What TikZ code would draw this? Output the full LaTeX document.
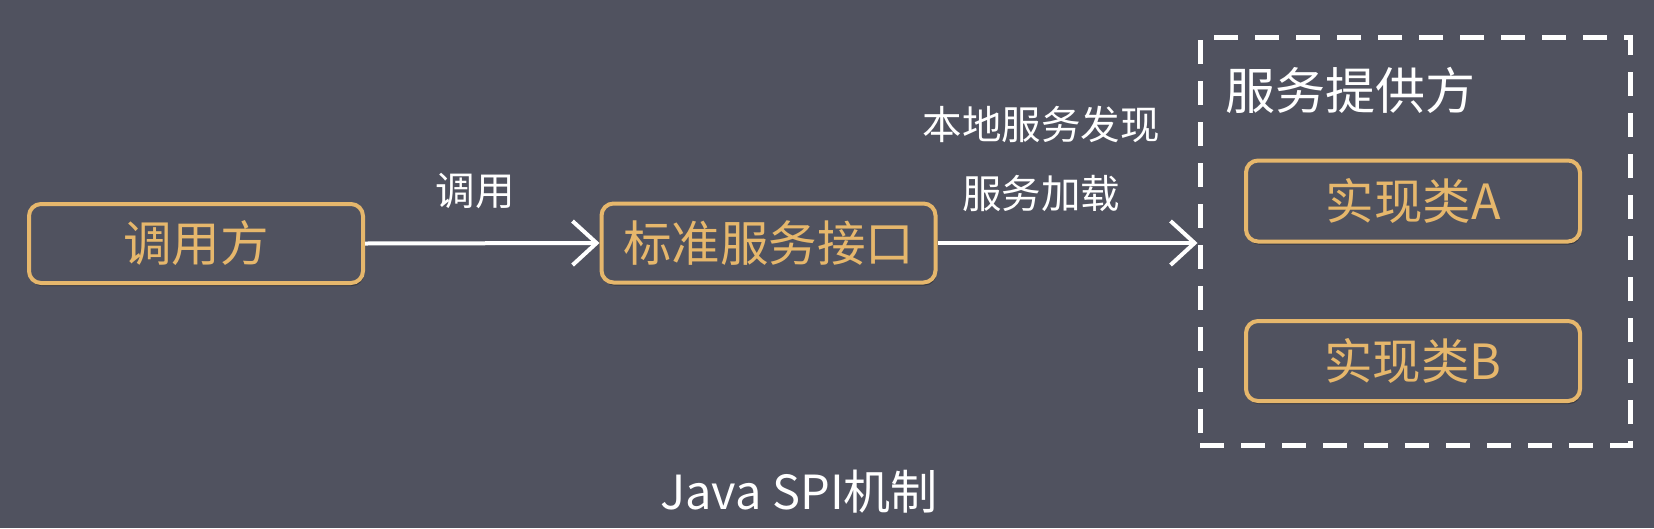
\documentclass[tikz,border=0pt]{standalone}
\usepackage{fontspec}
\setmainfont{Noto Sans CJK SC}
\usetikzlibrary{arrows.meta,shadows}
\definecolor{bg}{HTML}{50525F}
\definecolor{gold}{HTML}{E6B76C}
\begin{document}
\begin{tikzpicture}[x=1pt,y=-1pt,
 box/.style={draw=gold, fill=bg, line width=4pt, rounded corners=12pt, text=gold,
   font=\fontsize{48.5}{52}\selectfont, minimum height=79pt, minimum width=334pt, inner sep=0pt,
   drop shadow={shadow xshift=1pt, shadow yshift=-3pt, opacity=0.3, fill=black}},
 conn/.style={draw=white, line width=4pt, -{Straight Barb[length=24pt,width=44pt,line width=4pt]}},
 lbl/.style={text=white, font=\fontsize{39.5}{44}\selectfont, inner sep=0pt},
 grp/.style={draw=white, line width=5pt, dash pattern=on 24pt off 17pt}]
\fill[bg] (0,0) rectangle (1654,528);
\useasboundingbox (0,0) rectangle (1654,528);

\node[box] (caller) at (196,243.5) {调用方};
\node[box] (iface) at (768.5,243) {标准服务接口};
\node[grp, minimum width=430pt, minimum height=408pt, inner sep=0pt] (prov) at (1415,241) {};
\node[lbl, anchor=west, font=\fontsize{50}{54}\selectfont] (provt) at (1225,90) {服务提供方};
\node[box, minimum height=81pt] (implA) at (1413,201) {实现类A};
\node[box, minimum height=80pt] (implB) at (1413,361) {实现类B};

\draw[conn] (caller.east) -- (iface.west);
\draw[conn] (iface.east) -- (prov.west |- iface.east);

\node[lbl] (l1) at (475,191) {调用};
\node[lbl] (l2) at (1041,124) {本地服务发现};
\node[lbl] (l3) at (1041,194) {服务加载};
\node[lbl, font=\fontsize{47}{50}\selectfont] (cap) at (799,492) {Java SPI机制};
\end{tikzpicture}
\end{document}
